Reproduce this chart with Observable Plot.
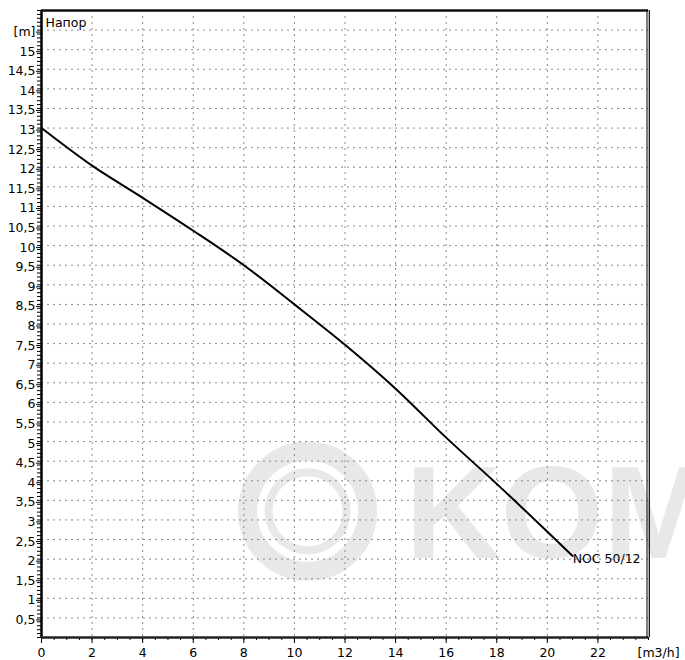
<!DOCTYPE html>
<html>
<head>
<meta charset="utf-8">
<script src="https://cdn.jsdelivr.net/npm/d3@7"></script>
<script src="https://cdn.jsdelivr.net/npm/@observablehq/plot@0.6"></script>
<style>
  html, body { margin: 0; padding: 0; background: #fff; }
</style>
</head>
<body>
<div id="chart"></div>
<script>
// ---- data ----
const flow = [0, 2, 4, 6, 8, 10, 12, 14, 16, 18, 20, 21];          // m3/h
const head = [13, 12.04, 11.22, 10.38, 9.5, 8.5, 7.47, 6.35, 5.1, 3.92, 2.7, 2.08]; // m
const curveName = "NOC 50/12";
const yTitle = "Напор";
const yUnit = "[m]";
const xUnit = "[m3/h]";

const xMajorTicks = [0, 2, 4, 6, 8, 10, 12, 14, 16, 18, 20, 22];
const xMinorTicks = d3.range(0, 49).map(i => i / 2);
const xGrid = [2, 4, 6, 8, 10, 12, 14, 16, 18, 20, 22];
const yLabelTicks = d3.range(1, 32).map(i => i / 2);   // 0.5 .. 15.5
const yMinorTicks = d3.range(0, 161).map(i => i / 10);
const yGrid = d3.range(1, 32).map(i => i / 2);

const watermarkLogo = [{x: 10.52, y: 3.22}];
const watermarkText = [{x: 14.39, y: 2.04, t: "KOM"}];

const points = flow.map((q, i) => ({q, h: head[i]}));
const last = points[points.length - 1];

const fmtY = d => d === 15.5 ? yUnit : String(d).replace(".", ",");
const wm = "#e8e8e8";

const chart = Plot.plot({
  width: 685,
  height: 660,
  marginLeft: 41,
  marginRight: 37,
  marginTop: 10,
  marginBottom: 23,
  x: {domain: [0, 24], axis: null},
  y: {domain: [0, 16], axis: null},
  style: {fontFamily: "'DejaVu Sans', Verdana, sans-serif", fontSize: "12.5px", background: "#fff", overflow: "visible", color: "#000"},
  marks: [
    // watermark
    Plot.dot(watermarkLogo, {x: "x", y: "y", r: 60, stroke: wm, strokeWidth: 19, fill: "none"}),
    Plot.dot(watermarkLogo, {x: "x", y: "y", r: 39, stroke: wm, strokeWidth: 8, fill: "none"}),
    Plot.text(watermarkText, {x: "x", y: "y", text: "t", fontSize: 132, fontWeight: "bold", fontFamily: "'Liberation Sans', Arial, sans-serif", fill: wm, textAnchor: "start", lineAnchor: "bottom"}),
    // grid
    Plot.ruleY(yGrid, {stroke: "#8a8a8a", strokeWidth: 1, strokeDasharray: "2,4"}),
    Plot.ruleX(xGrid, {stroke: "#8a8a8a", strokeWidth: 1, strokeDasharray: "2,4"}),
    // curve
    Plot.line(points, {x: "q", y: "h", curve: "catmull-rom", stroke: "#000", strokeWidth: 2}),
    Plot.text([last], {x: "q", y: "h", text: () => curveName, textAnchor: "start", dy: 3, fill: "#000"}),
    // axes ticks
    Plot.axisY(yMinorTicks, {tickSize: 4, fill: "none", label: null, stroke: "#000"}),
    Plot.axisY(yLabelTicks, {tickSize: 5, tickPadding: 1, tickFormat: fmtY, label: null, dy: 2, stroke: "#000", fill: "#000"}),
    Plot.axisX(xMinorTicks, {tickSize: 3, fill: "none", label: null, stroke: "#000"}),
    Plot.axisX(xMajorTicks, {tickSize: 6, tickPadding: 5, tickFormat: d => String(d), label: null, stroke: "#000", fill: "#000"}),
    Plot.text([{x: 24, y: 0}], {x: "x", y: "y", text: () => xUnit, textAnchor: "start", lineAnchor: "top", dx: -11, dy: 11, fill: "#000"}),
    // title inside frame
    Plot.text([yTitle], {frameAnchor: "top-left", text: d => d, textAnchor: "start", lineAnchor: "top", dx: 4, dy: 8, fill: "#000"}),
    // frame lines
    Plot.ruleX([0], {stroke: "#000", strokeWidth: 2.5}),
    Plot.ruleY([0], {stroke: "#222", strokeWidth: 2.5}),
    Plot.ruleY([16], {stroke: "#111", strokeWidth: 2.5}),
    Plot.ruleX([24], {stroke: "#000", strokeWidth: 1, dx: -1.5}),
    Plot.ruleX([24], {stroke: "#000", strokeWidth: 1.2, dx: 0.8})
  ]
});
document.getElementById("chart").appendChild(chart);
</script>
</body>
</html>
